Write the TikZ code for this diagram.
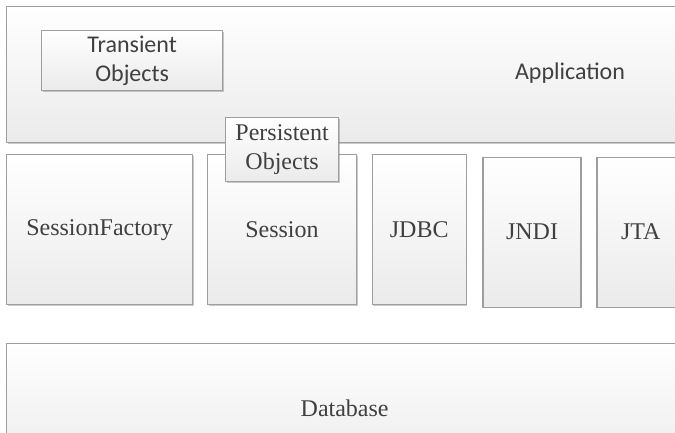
\documentclass[tikz,border=0pt]{standalone}
\usepackage{fontspec}
\setmainfont{Liberation Serif}
\newfontfamily\calibri{Carlito}
\usetikzlibrary{positioning, shadows}

\begin{document}
\begin{tikzpicture}[
    x=1pt, y=-1pt,
    node distance=13pt,
    box/.style={draw=black!38, line width=1.3pt, top color=white, bottom color=black!8,
                drop shadow={shadow xshift=1.2pt, shadow yshift=-1.2pt, opacity=0.35, fill=black!60},
                inner sep=0pt, align=center, text=black!75},
    col/.style={box, minimum height=150pt, anchor=north west},
    serif/.style={font=\fontsize{24}{29}\selectfont},
    sans/.style={font=\calibri\fontsize{24}{29}\selectfont},
]
\clip (0,0) rectangle (675,432);

% Application layer
\node[box, anchor=north west, minimum width=720pt, minimum height=136pt] (app) at (6,6) {};
\node[sans, text=black!75] (applbl) at (570,73) {Application};
\node[box, sans, minimum width=181pt, minimum height=60pt, anchor=north west] (trans) at (41,30) {Transient\\Objects};

% Hibernate components
\node[col, serif, minimum width=186pt] (sf) at (6,154) {SessionFactory};
\node[col, serif, minimum width=149pt, right=13.5pt of sf] (sess) {Session};
\node[col, serif, minimum width=94pt, right=14.5pt of sess] (jdbc) {JDBC};
\node[col, serif, minimum width=98pt, right=15.5pt of jdbc, yshift=-2.5pt] (jndi) {JNDI};
\node[col, serif, minimum width=88pt, right=14.5pt of jndi] (jta) {JTA};

\node[box, serif, minimum width=113pt, minimum height=64pt, anchor=north west] (pers) at (225,117) {Persistent\\Objects};

% Database layer
\node[box, serif, minimum width=676pt, minimum height=130pt, anchor=north west] (db) at (6,343) {Database};

\end{tikzpicture}
\end{document}
